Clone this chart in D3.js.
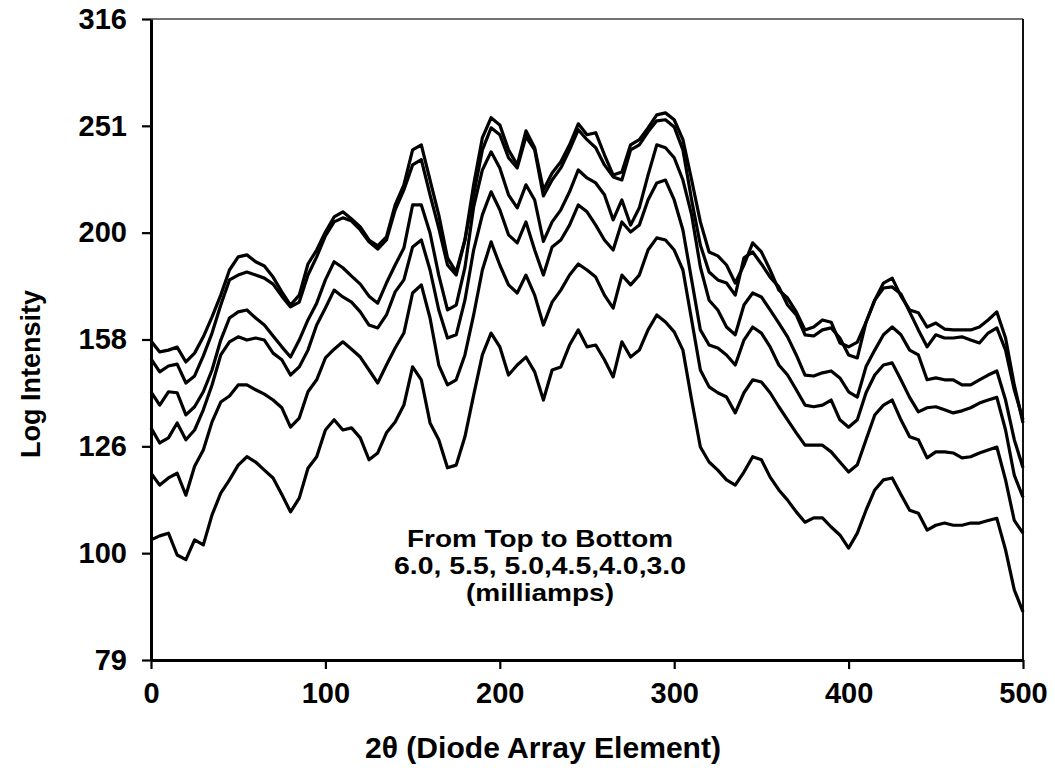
<!DOCTYPE html>
<html>
<head>
<meta charset="utf-8">
<script src="https://cdn.jsdelivr.net/npm/d3@7"></script>
<style>
  body { margin: 0; background: #fff; }
  svg text { font-family: "Liberation Sans", Arial, Helvetica, sans-serif; fill: #000; }
</style>
</head>
<body>
<svg id="chart" width="1055" height="771"></svg>
<script>
// Diode array element index (2θ position)
const element = [
  0, 5, 10, 15, 20, 25, 30, 35, 40, 45,
  50, 55, 60, 65, 70, 75, 80, 85, 90, 95,
  100, 105, 110, 115, 120, 125, 130, 135, 140, 145,
  150, 155, 160, 165, 170, 175, 180, 185, 190, 195,
  200, 205, 210, 215, 220, 225, 230, 235, 240, 245,
  250, 255, 260, 265, 270, 275, 280, 285, 290, 295,
  300, 305, 310, 315, 320, 325, 330, 335, 340, 345,
  350, 355, 360, 365, 370, 375, 380, 385, 390, 395,
  400, 405, 410, 415, 420, 425, 430, 435, 440, 445,
  450, 455, 460, 465, 470, 475, 480, 485, 490, 495,
  500
];

// Intensity at each element for each tube current (milliamps)
const i60 = [
  158.0, 154.3, 154.9, 155.9, 151.0, 153.9, 159.4, 166.4, 174.4, 184.1,
  189.4, 190.2, 187.4, 185.7, 181.3, 175.6, 170.7, 174.4, 186.5, 192.2,
  199.8, 206.4, 208.7, 205.5, 202.0, 196.4, 193.9, 197.7, 211.8, 221.2,
  238.5, 241.1, 223.5, 207.3, 189.0, 183.3, 196.4, 221.2, 244.8, 255.6,
  251.7, 238.5, 230.9, 248.5, 239.6, 218.8, 226.9, 232.5, 241.1, 252.3,
  246.4, 247.5, 236.0, 225.9, 227.4, 241.1, 243.8, 250.1, 257.2, 258.3,
  254.5, 243.8, 223.5, 204.2, 191.4, 189.8, 186.1, 179.0, 186.1, 195.2,
  191.4, 184.1, 176.3, 173.3, 168.2, 161.8, 162.8, 165.3, 164.5, 157.3,
  156.0, 157.6, 164.5, 172.5, 179.0, 180.9, 174.0, 168.9, 167.9, 162.8,
  164.2, 162.1, 161.8, 161.8, 161.8, 162.8, 165.3, 168.2, 159.0, 143.7,
  132.4
];
const i55 = [
  152.0, 147.8, 149.7, 150.3, 144.3, 146.5, 153.0, 160.7, 170.7, 180.2,
  182.1, 183.3, 182.1, 180.9, 178.6, 174.0, 170.0, 171.8, 182.1, 189.4,
  198.1, 204.2, 206.0, 204.6, 200.7, 195.6, 192.6, 196.4, 209.6, 218.8,
  230.9, 233.5, 216.5, 201.5, 186.1, 182.1, 196.4, 216.5, 238.5, 250.1,
  246.4, 234.5, 229.4, 245.4, 238.5, 216.0, 223.5, 229.4, 238.5, 249.1,
  243.8, 239.6, 230.9, 225.0, 223.5, 238.5, 241.1, 248.0, 253.9, 254.5,
  250.6, 238.5, 214.1, 194.3, 183.3, 180.2, 179.0, 174.4, 189.0, 191.4,
  186.5, 181.3, 177.5, 170.7, 167.1, 160.1, 159.7, 161.8, 162.5, 159.0,
  153.3, 152.3, 164.5, 172.5, 177.1, 177.5, 174.8, 168.2, 161.8, 156.0,
  160.1, 159.0, 159.0, 159.4, 158.3, 157.3, 160.7, 162.5, 154.9, 142.2,
  133.3
];
const i50 = [
  141.6, 137.6, 141.6, 141.3, 134.7, 137.1, 141.6, 148.4, 158.3, 166.0,
  168.2, 168.9, 166.0, 163.5, 159.7, 156.0, 152.6, 158.3, 165.3, 171.4,
  180.2, 187.4, 185.0, 181.7, 178.6, 174.0, 171.4, 179.0, 186.1, 193.0,
  211.8, 211.8, 199.4, 182.1, 168.9, 170.7, 185.0, 210.9, 228.4, 237.5,
  229.4, 216.5, 210.5, 221.2, 214.1, 195.8, 204.2, 209.6, 217.9, 228.4,
  224.5, 222.1, 216.5, 205.1, 214.1, 202.8, 210.5, 225.9, 241.1, 239.6,
  234.5, 223.5, 207.3, 185.3, 172.5, 168.9, 162.8, 160.1, 170.7, 175.2,
  173.7, 168.9, 164.2, 159.4, 153.3, 146.8, 146.5, 147.5, 148.1, 145.9,
  141.6, 140.0, 149.5, 154.9, 160.1, 162.8, 160.1, 154.9, 153.3, 145.3,
  145.9, 145.3, 145.3, 143.7, 143.7, 145.3, 146.8, 148.1, 139.1, 127.7,
  120.2
];
const i45 = [
  131.0, 126.8, 128.2, 132.4, 127.7, 130.4, 136.2, 143.7, 153.3, 157.7,
  159.4, 158.3, 159.0, 158.3, 153.9, 151.7, 146.8, 149.4, 154.9, 163.5,
  169.6, 176.3, 173.7, 171.8, 168.2, 163.5, 162.5, 167.1, 175.6, 180.2,
  193.5, 196.4, 184.1, 168.9, 159.0, 160.1, 172.5, 192.2, 207.3, 217.9,
  209.6, 198.6, 195.2, 204.2, 192.2, 182.1, 193.5, 196.4, 202.8, 211.8,
  208.7, 202.8, 196.4, 192.2, 204.2, 199.8, 202.8, 214.1, 222.1, 223.5,
  214.1, 200.7, 180.2, 161.8, 156.6, 155.6, 153.3, 150.0, 158.3, 162.8,
  160.7, 156.0, 150.0, 146.8, 142.2, 137.6, 137.1, 137.6, 139.1, 133.3,
  131.2, 133.3, 141.3, 146.8, 150.0, 150.7, 145.3, 139.9, 135.6, 136.8,
  137.1, 136.2, 135.3, 135.9, 136.8, 138.2, 139.1, 139.9, 130.4, 118.3,
  112.8
];
const i40 = [
  118.8, 115.8, 117.6, 118.8, 113.3, 120.6, 124.9, 132.7, 138.5, 140.3,
  143.7, 143.7, 142.2, 140.9, 139.1, 136.8, 131.2, 133.8, 141.6, 145.3,
  152.3, 155.2, 157.7, 155.2, 152.6, 148.4, 144.3, 150.0, 155.6, 160.7,
  175.2, 178.3, 166.0, 150.0, 143.7, 145.3, 153.3, 167.1, 184.1, 195.6,
  186.1, 178.3, 175.2, 182.1, 174.4, 163.5, 171.8, 176.3, 182.1, 186.5,
  184.1, 181.3, 174.4, 169.6, 182.1, 178.3, 182.1, 192.2, 197.3, 196.4,
  192.2, 184.1, 165.3, 148.4, 143.1, 141.3, 140.0, 135.3, 141.3, 145.3,
  144.6, 141.3, 137.1, 133.3, 129.6, 126.2, 126.2, 126.2, 124.4, 121.7,
  119.1, 121.0, 127.7, 134.7, 137.6, 139.1, 133.3, 128.5, 127.7, 122.8,
  124.4, 124.4, 124.1, 122.8, 123.1, 124.1, 124.9, 125.7, 117.1, 107.3,
  104.4
];
const i30 = [
  102.9, 103.8, 104.4, 99.6, 98.6, 102.9, 101.8, 108.6, 113.8, 117.1,
  120.9, 123.1, 121.7, 119.6, 117.6, 113.5, 109.3, 112.6, 120.1, 123.1,
  130.4, 133.3, 130.4, 131.0, 128.2, 122.3, 124.1, 129.6, 132.7, 137.6,
  149.4, 145.3, 132.4, 127.7, 120.2, 120.9, 128.5, 140.6, 153.3, 160.7,
  156.0, 146.8, 150.0, 152.6, 147.8, 139.1, 148.4, 149.4, 156.6, 161.8,
  156.0, 156.6, 151.7, 146.2, 157.7, 152.6, 154.9, 161.8, 167.1, 164.6,
  161.1, 154.9, 139.1, 125.7, 121.7, 119.6, 117.1, 115.8, 119.1, 123.1,
  122.3, 117.8, 114.6, 112.1, 109.3, 106.9, 107.9, 107.9, 105.8, 104.0,
  101.1, 104.4, 109.7, 114.6, 117.1, 117.6, 113.5, 109.7, 109.0, 105.1,
  106.2, 106.7, 106.2, 106.2, 106.7, 106.7, 107.3, 107.8, 100.7, 92.4,
  88.1
];

const currents = ["6.0", "5.5", "5.0", "4.5", "4.0", "3.0"];
const seriesValues = [i60, i55, i50, i45, i40, i30];

// Log-spaced tick positions (10^1.9 ... 10^2.5) and their printed labels
const yTickValues = [79.43, 100, 125.89, 158.49, 199.53, 251.19, 316.23];
const yTickLabels = ["79", "100", "126", "158", "200", "251", "316"];
const xTickValues = [0, 100, 200, 300, 400, 500];

const noteLines = ["From Top to Bottom", "6.0, 5.5, 5.0,4.5,4.0,3.0", "(milliamps)"];
const noteWidths = [266, 292, 148];

const svg = d3.select("#chart");
const plotLeft = 151, plotRight = 1023, plotTop = 19, plotBottom = 660;

const x = d3.scaleLinear().domain([0, 500]).range([plotLeft, plotRight]);
const y = d3.scaleLog().domain([79.43, 316.23]).range([plotBottom, plotTop]);

// frame: top and right edges
svg.append("line")
  .attr("x1", plotLeft).attr("x2", plotRight).attr("y1", plotTop).attr("y2", plotTop)
  .attr("stroke", "#444").attr("stroke-width", 1.5);
svg.append("line")
  .attr("x1", plotRight).attr("x2", plotRight).attr("y1", plotTop).attr("y2", plotBottom)
  .attr("stroke", "#111").attr("stroke-width", 2);

// spectra
const line = d3.line()
  .x((d, i) => x(element[i]))
  .y(d => y(d));

svg.append("g")
  .selectAll("path")
  .data(seriesValues)
  .join("path")
  .attr("class", (d, i) => "spectrum ma-" + currents[i].replace(".", "_"))
  .attr("d", line)
  .attr("fill", "none")
  .attr("stroke", "#000")
  .attr("stroke-width", 3.2)
  .attr("stroke-linejoin", "round");

// y axis
const yAxis = svg.append("g")
  .attr("transform", `translate(${plotLeft},0)`)
  .call(d3.axisLeft(y)
    .tickValues(yTickValues)
    .tickFormat((d, i) => yTickLabels[i])
    .tickSize(9)
    .tickSizeOuter(0)
    .tickPadding(15));

// x axis
const xAxis = svg.append("g")
  .attr("transform", `translate(0,${plotBottom})`)
  .call(d3.axisBottom(x)
    .tickValues(xTickValues)
    .tickFormat(d3.format("d"))
    .tickSize(9)
    .tickSizeOuter(0)
    .tickPadding(13));

[yAxis, xAxis].forEach(g => {
  g.select(".domain").attr("stroke", "#000").attr("stroke-width", 3);
  g.selectAll(".tick line").attr("stroke", "#000").attr("stroke-width", 2.2);
  g.selectAll(".tick text")
    .attr("fill", "#000")
    .style("font-family", "'Liberation Sans', Arial, sans-serif")
    .style("font-weight", "bold")
    .style("font-size", "29px");
});

// axis titles
svg.append("text")
  .attr("transform", "translate(40,374) rotate(-90)")
  .attr("text-anchor", "middle")
  .style("font-size", "27px")
  .style("font-weight", "bold")
  .text("Log Intensity");

svg.append("text")
  .attr("x", 543).attr("y", 758)
  .attr("text-anchor", "middle")
  .attr("textLength", 356)
  .attr("lengthAdjust", "spacingAndGlyphs")
  .style("font-size", "29px")
  .style("font-weight", "bold")
  .text("2θ (Diode Array Element)");

// note naming the tube current of each trace
svg.append("g")
  .selectAll("text")
  .data(noteLines)
  .join("text")
  .attr("x", 540)
  .attr("y", (d, i) => 547 + i * 27)
  .attr("text-anchor", "middle")
  .attr("textLength", (d, i) => noteWidths[i])
  .attr("lengthAdjust", "spacingAndGlyphs")
  .style("font-size", "24px")
  .style("font-weight", "bold")
  .text(d => d);
</script>
</body>
</html>
